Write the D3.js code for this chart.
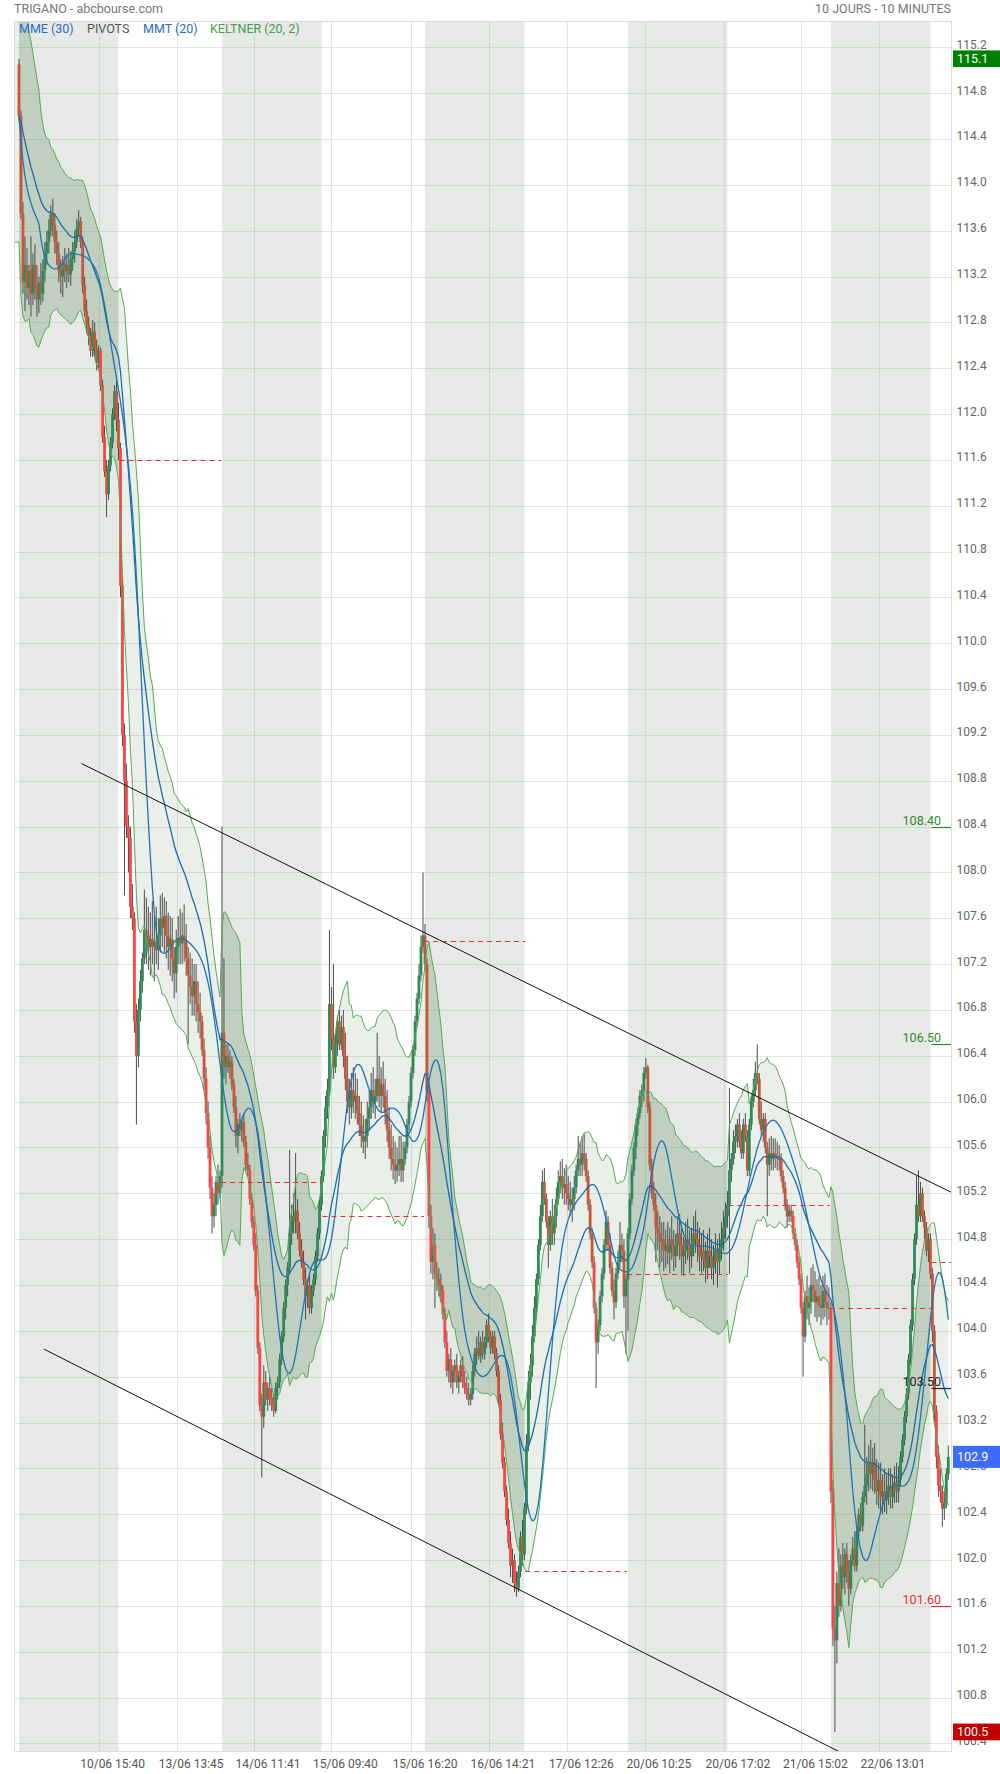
<!DOCTYPE html>
<html><head><meta charset="utf-8">
<script src="https://cdn.jsdelivr.net/npm/d3@7"></script>
<style>
html,body{margin:0;padding:0;background:#fff;}
svg{display:block;font-family:Roboto,"Noto Sans",sans-serif;}
</style></head><body>
<svg id="c" width="1000" height="1774"></svg>
<script>
const title = "TRIGANO - abcbourse.com";
const period = "10 JOURS - 10 MINUTES";
const legendItems = ["MME (30)", "PIVOTS", "MMT (20)", "KELTNER (20, 2)"];
const dayLabels = ["10/06","13/06","14/06","15/06","16/06","17/06","20/06","21/06","22/06","23/06"];
const xTickLabels = ["10/06 15:40","13/06 13:45","14/06 11:41","15/06 09:40","15/06 16:20","16/06 14:21","17/06 12:26","20/06 10:25","20/06 17:02","21/06 15:02","22/06 13:01"];
const yTickLabels = ["115.2","114.8","114.4","114.0","113.6","113.2","112.8","112.4","112.0","111.6","111.2","110.8","110.4","110.0","109.6","109.2","108.8","108.4","108.0","107.6","107.2","106.8","106.4","106.0","105.6","105.2","104.8","104.4","104.0","103.6","103.2","102.8","102.4","102.0","101.6","101.2","100.8","100.4"];

// OHLC per day, 10-minute bars [open, high, low, close]
const day0 = [[115.05,115.1,114.55,114.6],[114.6,114.65,113.7,113.75],[113.75,113.85,113.05,113.15],[113.15,113.55,112.9,113.3],[113.3,113.45,113.0,113.1],[113.1,113.3,112.95,113.25],[113.25,113.55,112.85,113.05],[113.05,113.4,112.95,113.3],[113.3,113.48,113.0,113.1],[113.1,113.3,112.85,113.0],[113.0,113.2,112.88,113.15],[113.15,113.32,112.95,113.05],[113.05,113.35,112.98,113.25],[113.25,113.5,113.15,113.4],[113.4,113.6,113.3,113.5],[113.5,113.7,113.4,113.6],[113.6,113.82,113.55,113.75],[113.75,113.88,113.55,113.65],[113.65,113.75,113.4,113.5],[113.5,113.6,113.3,113.4],[113.4,113.5,113.15,113.25],[113.25,113.35,113.05,113.2],[113.2,113.38,113.02,113.32],[113.32,113.45,113.15,113.25],[113.25,113.4,113.1,113.3],[113.3,113.45,113.15,113.22],[113.22,113.42,113.12,113.35],[113.35,113.5,113.25,113.42],[113.42,113.6,113.32,113.5],[113.5,113.7,113.45,113.62],[113.62,113.78,113.55,113.68],[113.68,113.72,113.45,113.5],[113.5,113.55,113.05,113.12],[113.12,113.2,112.85,112.9],[112.9,113.0,112.7,112.78],[112.78,112.85,112.6,112.68],[112.68,112.75,112.5,112.55],[112.55,112.82,112.5,112.72],[112.72,112.8,112.5,112.58],[112.58,112.65,112.38,112.45],[112.45,112.6,112.4,112.55],[112.55,112.58,112.2,112.25],[112.25,112.3,111.75,111.8],[111.8,111.9,111.45,111.5],[111.5,111.6,111.1,111.3],[111.3,111.6,111.25,111.55],[111.55,111.8,111.5,111.75],[111.75,112.05,111.7,112.0],[112.0,112.25,111.95,112.2],[112.2,112.3,111.85,111.95],[111.95,112.1,111.6,111.7]];
const day1 = [[111.7,111.75,110.4,110.5],[110.5,110.55,109.1,109.2],[109.2,109.3,107.8,108.8],[108.8,108.95,108.3,108.4],[108.4,108.5,108.0,108.3],[108.3,108.4,107.6,107.7],[107.7,107.9,107.5,107.6],[107.6,107.65,106.6,106.7],[106.7,106.85,105.8,106.4],[106.4,106.9,106.3,106.8],[106.8,107.15,106.7,107.05],[107.05,107.3,106.95,107.25],[107.25,107.85,107.2,107.5],[107.5,107.78,107.2,107.45],[107.45,107.7,107.15,107.35],[107.35,107.65,107.1,107.42],[107.42,107.75,107.2,107.35],[107.35,107.62,107.05,107.4],[107.4,107.7,107.2,107.32],[107.32,107.6,107.15,107.45],[107.45,107.8,107.3,107.6],[107.6,107.82,107.35,107.52],[107.52,107.78,107.3,107.62],[107.62,107.75,107.25,107.45],[107.45,107.65,107.15,107.35],[107.35,107.62,107.1,107.42],[107.42,107.6,107.05,107.25],[107.25,107.35,106.9,107.12],[107.12,107.5,106.95,107.35],[107.35,107.62,107.2,107.42],[107.42,107.68,107.2,107.38],[107.38,107.65,107.2,107.45],[107.45,107.72,107.22,107.4],[107.4,107.55,107.1,107.25],[107.25,107.35,106.5,107.1],[107.1,107.3,106.85,107.0],[107.0,107.25,106.75,106.92],[106.92,107.2,106.75,107.05],[107.05,107.2,106.7,106.85],[106.85,107.05,106.6,106.78],[106.78,106.95,106.55,106.7],[106.7,106.75,106.4,106.45],[106.45,106.55,106.1,106.2],[106.2,106.3,105.8,105.9],[105.9,106.0,105.5,105.6],[105.6,105.7,105.15,105.25],[105.25,105.35,104.85,105.0],[105.0,105.2,104.9,105.1],[105.1,105.35,105.0,105.3],[105.3,105.45,105.1,105.2],[105.2,105.4,105.15,105.35]];
const day2 = [[105.35,108.4,105.25,106.6],[106.6,107.25,106.2,106.3],[106.3,106.5,106.15,106.4],[106.4,106.5,106.25,106.3],[106.3,106.45,106.2,106.35],[106.35,106.4,106.1,106.15],[106.15,106.2,105.9,105.95],[105.95,106.05,105.6,105.7],[105.7,105.85,105.55,105.8],[105.8,105.9,105.7,105.75],[105.75,105.85,105.65,105.82],[105.82,105.9,105.6,105.65],[105.65,105.7,105.4,105.45],[105.45,105.55,105.35,105.4],[105.4,105.45,105.1,105.15],[105.15,105.2,104.9,104.95],[104.95,105.0,104.7,104.75],[104.75,104.85,104.3,104.35],[104.35,104.4,103.8,103.85],[103.85,103.9,103.3,103.35],[103.35,103.45,102.72,103.25],[103.25,103.7,103.15,103.55],[103.55,103.65,103.35,103.4],[103.4,103.55,103.3,103.5],[103.5,103.6,103.35,103.42],[103.42,103.5,103.3,103.35],[103.35,103.45,103.25,103.3],[103.3,103.55,103.28,103.5],[103.5,103.6,103.4,103.55],[103.55,103.8,103.5,103.75],[103.75,104.0,103.7,103.95],[103.95,104.25,103.9,104.2],[104.2,104.45,104.1,104.4],[104.4,104.6,104.3,104.55],[104.55,105.58,104.5,104.85],[104.85,105.1,104.75,105.0],[105.0,105.2,104.85,104.95],[104.95,105.55,104.85,105.05],[105.05,105.15,104.8,104.85],[104.85,104.95,104.65,104.7],[104.7,104.8,104.55,104.6],[104.6,104.7,104.4,104.45],[104.45,104.55,104.1,104.3],[104.3,104.45,104.2,104.4],[104.4,104.5,104.15,104.2],[104.2,104.4,104.15,104.35],[104.35,104.5,104.3,104.45],[104.45,104.7,104.4,104.65],[104.65,104.9,104.6,104.85],[104.85,105.15,104.8,105.1],[105.1,105.4,105.05,105.35]];
const day3 = [[105.35,105.75,105.3,105.7],[105.7,106.05,105.6,105.95],[105.95,106.2,105.85,106.1],[106.1,107.5,106.05,106.85],[106.85,107.0,106.45,106.55],[106.55,107.2,106.2,106.3],[106.3,106.6,106.25,106.5],[106.5,106.75,106.4,106.7],[106.7,106.8,106.45,106.5],[106.5,106.75,106.45,106.65],[106.65,106.8,106.3,106.4],[106.4,106.6,106.1,106.2],[106.2,106.4,105.9,106.0],[106.0,106.2,105.8,105.95],[105.95,106.25,105.85,106.1],[106.1,106.3,105.9,106.0],[106.0,106.25,105.85,106.05],[106.05,106.2,105.8,105.9],[105.9,106.05,105.7,105.8],[105.8,106.0,105.6,105.7],[105.7,105.88,105.55,105.65],[105.65,105.85,105.5,105.7],[105.7,106.0,105.6,105.85],[105.85,106.1,105.75,105.95],[105.95,106.25,105.85,106.1],[106.1,106.3,105.9,106.0],[106.0,106.2,105.85,106.05],[106.05,106.6,106.0,106.2],[106.2,106.4,105.95,106.05],[106.05,106.3,105.9,106.15],[106.15,106.35,105.95,106.05],[106.05,106.2,105.8,105.9],[105.9,106.1,105.65,105.75],[105.75,105.95,105.5,105.6],[105.6,105.8,105.4,105.5],[105.5,105.7,105.32,105.45],[105.45,105.65,105.28,105.4],[105.4,105.6,105.3,105.45],[105.45,105.7,105.35,105.5],[105.5,105.7,105.3,105.4],[105.4,105.65,105.3,105.5],[105.5,105.65,105.45,105.6],[105.6,105.85,105.55,105.8],[105.8,106.05,105.75,106.0],[106.0,106.3,105.95,106.25],[106.25,106.5,106.2,106.45],[106.45,106.75,106.4,106.7],[106.7,106.95,106.65,106.9],[106.9,107.2,106.85,107.1],[107.1,107.45,107.05,107.35],[107.35,108.0,107.3,107.45]];
const day4 = [[107.45,107.55,107.15,107.2],[107.2,107.25,106.0,106.1],[106.1,106.15,104.9,105.0],[105.0,105.1,104.5,104.6],[104.6,104.9,104.45,104.75],[104.75,104.85,104.2,104.5],[104.5,104.6,104.35,104.45],[104.45,104.55,104.3,104.4],[104.4,104.5,104.25,104.35],[104.35,104.4,104.1,104.15],[104.15,104.2,103.85,103.9],[103.9,104.0,103.6,103.65],[103.65,103.8,103.55,103.75],[103.75,103.85,103.5,103.55],[103.55,103.7,103.45,103.65],[103.65,103.75,103.55,103.7],[103.7,103.8,103.5,103.55],[103.55,103.65,103.45,103.6],[103.6,103.75,103.55,103.7],[103.7,103.78,103.5,103.55],[103.55,103.65,103.45,103.5],[103.5,103.6,103.4,103.45],[103.45,103.55,103.35,103.4],[103.4,103.5,103.35,103.45],[103.45,103.7,103.4,103.65],[103.65,103.85,103.6,103.8],[103.8,103.95,103.7,103.85],[103.85,104.0,103.75,103.78],[103.78,103.95,103.72,103.9],[103.9,104.0,103.75,103.8],[103.8,103.95,103.75,103.9],[103.9,104.1,103.85,104.05],[104.05,104.15,103.9,103.95],[103.95,104.0,103.8,103.85],[103.85,104.0,103.8,103.95],[103.95,104.0,103.75,103.8],[103.8,103.85,103.6,103.65],[103.65,103.7,103.35,103.4],[103.4,103.45,103.05,103.1],[103.1,103.2,102.8,102.85],[102.85,102.9,102.55,102.6],[102.6,102.65,102.3,102.35],[102.35,102.45,102.1,102.15],[102.15,102.25,101.85,101.95],[101.95,102.1,101.8,102.0],[102.0,102.05,101.72,101.8],[101.8,101.9,101.68,101.75],[101.75,101.95,101.72,101.9],[101.9,102.25,101.85,102.2],[102.2,102.35,101.95,102.05],[102.05,102.5,102.0,102.45]];
const day5 = [[102.45,103.1,102.4,103.0],[103.0,103.65,102.95,103.55],[103.55,103.8,103.4,103.7],[103.7,104.05,103.6,103.95],[103.95,104.3,103.9,104.2],[104.2,104.5,104.1,104.45],[104.45,104.8,104.4,104.75],[104.75,105.1,104.7,105.0],[105.0,105.4,104.95,105.3],[105.3,105.42,105.1,105.15],[105.15,105.2,104.9,104.95],[104.95,105.0,104.55,104.75],[104.75,105.05,104.7,105.0],[105.0,105.15,104.75,104.85],[104.85,105.1,104.75,105.0],[105.0,105.25,104.9,105.15],[105.15,105.4,105.1,105.3],[105.3,105.48,105.2,105.35],[105.35,105.5,105.15,105.25],[105.25,105.42,105.1,105.28],[105.28,105.45,105.1,105.2],[105.2,105.35,105.05,105.15],[105.15,105.3,105.0,105.1],[105.1,105.25,104.95,105.15],[105.15,105.35,105.05,105.25],[105.25,105.45,105.2,105.4],[105.4,105.7,105.35,105.5],[105.5,105.65,105.35,105.45],[105.45,105.7,105.35,105.55],[105.55,105.72,105.4,105.5],[105.5,105.55,105.3,105.35],[105.35,105.4,105.05,105.1],[105.1,105.15,104.8,104.85],[104.85,104.9,104.55,104.6],[104.6,104.65,104.15,104.2],[104.2,104.25,103.5,103.9],[103.9,104.1,103.8,104.05],[104.05,104.35,104.0,104.3],[104.3,104.55,104.25,104.5],[104.5,104.8,104.45,104.75],[104.75,105.05,104.7,104.95],[104.95,105.0,104.7,104.75],[104.75,104.85,104.5,104.55],[104.55,104.6,104.3,104.35],[104.35,104.45,104.1,104.25],[104.25,104.55,104.2,104.5],[104.5,104.7,104.45,104.6],[104.6,104.95,104.55,104.75],[104.75,104.85,104.6,104.7],[104.7,104.8,104.2,104.3],[104.3,104.5,103.8,104.45]];
const day6 = [[104.45,104.9,104.0,104.85],[104.85,105.2,104.8,105.15],[105.15,105.45,105.1,105.4],[105.4,105.65,105.35,105.6],[105.6,105.85,105.5,105.8],[105.8,105.95,105.7,105.9],[105.9,106.1,105.85,106.05],[106.05,106.15,105.95,106.1],[106.1,106.3,106.0,106.25],[106.25,106.38,106.2,106.3],[106.3,106.32,105.9,105.95],[105.95,106.0,105.4,105.45],[105.45,105.5,105.15,105.2],[105.2,105.3,105.05,105.1],[105.1,105.2,104.6,104.9],[104.9,105.05,104.7,104.85],[104.85,105.0,104.55,104.78],[104.78,104.95,104.6,104.8],[104.8,104.95,104.52,104.7],[104.7,104.88,104.55,104.75],[104.75,104.95,104.58,104.68],[104.68,104.9,104.5,104.8],[104.8,105.0,104.62,104.75],[104.75,104.88,104.52,104.65],[104.65,104.85,104.55,104.75],[104.75,105.0,104.65,104.85],[104.85,105.02,104.62,104.75],[104.75,104.9,104.5,104.65],[104.65,104.82,104.48,104.7],[104.7,104.95,104.58,104.8],[104.8,104.98,104.62,104.75],[104.75,104.88,104.5,104.65],[104.65,104.9,104.55,104.75],[104.75,105.0,104.65,104.85],[104.85,105.05,104.68,104.8],[104.8,104.95,104.6,104.75],[104.75,104.9,104.52,104.65],[104.65,104.85,104.5,104.7],[104.7,104.88,104.52,104.62],[104.62,104.78,104.42,104.55],[104.55,104.85,104.45,104.7],[104.7,104.9,104.55,104.65],[104.65,104.8,104.45,104.55],[104.55,104.75,104.4,104.6],[104.6,104.85,104.5,104.7],[104.7,104.8,104.38,104.6],[104.6,104.85,104.5,104.72],[104.72,104.95,104.62,104.8],[104.8,105.05,104.7,104.9],[104.9,105.12,104.8,105.0],[105.0,105.22,104.9,105.1]];
const day7 = [[105.1,106.12,104.5,105.4],[105.4,105.55,105.3,105.5],[105.5,105.75,105.45,105.65],[105.65,105.8,105.55,105.7],[105.7,105.85,105.6,105.8],[105.8,105.9,105.6,105.65],[105.65,105.75,105.5,105.55],[105.55,105.85,105.5,105.8],[105.8,105.9,105.65,105.7],[105.7,105.75,105.35,105.4],[105.4,105.85,105.35,105.8],[105.8,106.05,105.75,106.0],[106.0,106.2,105.95,106.1],[106.1,106.35,106.05,106.25],[106.25,106.5,106.15,106.2],[106.2,106.25,105.8,105.85],[105.85,106.0,105.7,105.75],[105.75,105.9,105.65,105.85],[105.85,105.9,105.55,105.6],[105.6,105.65,105.0,105.45],[105.45,105.68,105.35,105.55],[105.55,105.7,105.4,105.5],[105.5,105.68,105.4,105.55],[105.55,105.68,105.42,105.52],[105.52,105.65,105.4,105.5],[105.5,105.62,105.4,105.5],[105.5,105.55,105.3,105.35],[105.35,105.4,105.2,105.25],[105.25,105.3,105.05,105.1],[105.1,105.15,104.9,105.0],[105.0,105.1,104.95,105.05],[105.05,105.1,104.95,105.0],[105.0,105.05,104.8,104.85],[104.85,104.9,104.7,104.75],[104.75,104.8,104.55,104.6],[104.6,104.65,104.4,104.45],[104.45,104.5,104.15,104.2],[104.2,104.25,103.6,103.95],[103.95,104.35,103.9,104.3],[104.3,104.48,104.1,104.2],[104.2,104.38,104.05,104.25],[104.25,104.55,104.15,104.4],[104.4,104.58,104.25,104.35],[104.35,104.52,104.12,104.25],[104.25,104.45,104.08,104.3],[104.3,104.48,104.12,104.22],[104.22,104.4,104.05,104.2],[104.2,104.48,104.1,104.35],[104.35,104.5,104.12,104.25],[104.25,104.4,104.05,104.2],[104.2,104.38,104.1,104.2]];
const day8 = [[104.2,104.25,102.5,102.6],[102.6,102.7,101.25,101.4],[101.4,101.6,100.5,101.3],[101.3,101.9,101.1,101.8],[101.8,102.1,101.5,101.6],[101.6,102.05,101.55,101.95],[101.95,102.15,101.75,101.85],[101.85,102.1,101.7,102.05],[102.05,102.15,101.8,101.9],[101.9,102.0,101.6,101.75],[101.75,102.05,101.7,102.0],[102.0,102.2,101.95,102.1],[102.1,102.25,101.9,101.95],[101.95,102.3,101.9,102.25],[102.25,102.45,102.2,102.4],[102.4,102.5,102.25,102.3],[102.3,102.6,102.25,102.55],[102.55,103.18,102.5,102.65],[102.65,102.9,102.48,102.75],[102.75,103.0,102.6,102.85],[102.85,103.05,102.62,102.75],[102.75,102.98,102.6,102.85],[102.85,103.02,102.58,102.7],[102.7,102.88,102.48,102.6],[102.6,102.85,102.45,102.7],[102.7,102.85,102.42,102.55],[102.55,102.75,102.4,102.6],[102.6,102.8,102.42,102.52],[102.52,102.75,102.4,102.6],[102.6,102.8,102.48,102.65],[102.65,102.8,102.45,102.55],[102.55,102.75,102.45,102.6],[102.6,102.82,102.5,102.68],[102.68,102.85,102.5,102.6],[102.6,102.82,102.5,102.7],[102.7,102.95,102.65,102.9],[102.9,103.1,102.85,103.05],[103.05,103.3,103.0,103.25],[103.25,103.5,103.2,103.45],[103.45,103.8,103.4,103.75],[103.75,104.1,103.7,104.05],[104.05,104.5,104.0,104.45],[104.45,104.85,104.4,104.8],[104.8,105.35,104.75,105.1],[105.1,105.4,104.95,105.0],[105.0,105.3,104.95,105.2],[105.2,105.25,104.95,105.0],[105.0,105.05,104.8,104.9],[104.9,104.95,104.65,104.7],[104.7,104.85,104.6,104.8],[104.8,104.85,104.45,104.5]];
const day9 = [[104.5,104.55,103.9,104.0],[104.0,104.05,103.2,103.3],[103.3,103.35,102.8,102.9],[102.9,103.0,102.55,102.65],[102.65,102.8,102.5,102.6],[102.6,102.65,102.29,102.45],[102.45,102.6,102.35,102.5],[102.5,102.8,102.45,102.75],[102.75,103.0,102.7,102.9]];

// daily pivot reference (red dashed), one per day
const dailyPivots = [null,111.6,105.3,105.0,107.4,101.9,104.5,105.1,104.2,104.6];
// next levels shown at the right edge
const levelValues = [108.40,106.50,103.50,101.60];
const levelNames = ["108.40","106.50","103.50","101.60"];
// trend lines [bar index, price]
const trendUpper = [[31.4,108.95],[468.3,105.21]];
const trendLower = [[12.6,103.84],[411.9,100.33]];
const periodHigh = 115.1, lastPrice = 102.9, periodLow = 100.5;

const BARS_PER_DAY = 51;
const days = [day0,day1,day2,day3,day4,day5,day6,day7,day8,day9];
const bars = [];
days.forEach((d,di)=>d.forEach((r,k)=>bars.push({i:di*BARS_PER_DAY+k,o:r[0],h:r[1],l:r[2],c:r[3]})));
const N = bars.length;

// indicators
function ema(v,n){const a=2/(n+1);let e=v[0];return v.map(x=>e=e+a*(x-e));}
function sma(v,n){return v.map((x,i)=>d3.mean(v.slice(Math.max(0,i-n+1),i+1)));}
const closes = bars.map(b=>b.c);
const mme = ema(closes,30);
const mmt = sma(sma(closes,10),11);
const tr = bars.map((b,i)=>i===0?b.h-b.l:Math.max(b.h-b.l,Math.abs(b.h-bars[i-1].c),Math.abs(b.l-bars[i-1].c)));
const atr = sma(tr,10);
const kMid = ema(closes,20);
const kUp = kMid.map((m,i)=>m+2*atr[i]);
const kLo = kMid.map((m,i)=>m-2*atr[i]);

// layout
const L=14, R=951, T=21, B=1751;
const svg = d3.select("#c");
const x = d3.scaleLinear().domain([0,N-1]).range([19,19+(N-1)*1.99]);
const y = d3.scaleLinear().domain([100.4,115.2]).range([1743.4,47.3]);

const defs = svg.append("defs");
defs.append("clipPath").attr("id","plot").append("rect").attr("x",L).attr("y",T).attr("width",R-L).attr("height",B-T);
const shadedDays = d3.range(0,10,2).filter(d=>d*BARS_PER_DAY<N);
const cs = defs.append("clipPath").attr("id","shade");
shadedDays.forEach(d=>{const s=d*BARS_PER_DAY,e=Math.min(s+BARS_PER_DAY-1,N-1);
  cs.append("rect").attr("x",x(s)).attr("y",T).attr("width",x(e)-x(s)).attr("height",B-T);});

const g = svg.append("g").attr("clip-path","url(#plot)");
shadedDays.forEach(d=>{const s=d*BARS_PER_DAY,e=Math.min(s+BARS_PER_DAY-1,N-1);
  g.append("rect").attr("x",x(s)).attr("y",T).attr("width",x(e)-x(s)).attr("height",B-T).attr("fill","#e7e9e7");});

function tickBar(lbl){const [dd,tm]=lbl.split(" ");const di=dayLabels.indexOf(dd);const [hh,mm]=tm.split(":").map(Number);return di*BARS_PER_DAY+((hh-9)*60+mm)/10;}
const xTicks = xTickLabels.map(tickBar);
const yTicks = yTickLabels.map(Number);

function grid(sel,color){
  sel.selectAll("line.h").data(yTicks).join("line").attr("class","h").attr("x1",L).attr("x2",R).attr("y1",d=>Math.round(y(d))+0.5).attr("y2",d=>Math.round(y(d))+0.5).attr("stroke",color).attr("stroke-width",1);
  sel.selectAll("line.v").data(xTicks).join("line").attr("class","v").attr("y1",T).attr("y2",B).attr("x1",d=>Math.round(x(d))+0.5).attr("x2",d=>Math.round(x(d))+0.5).attr("stroke",color).attr("stroke-width",1);
}
grid(g.append("g"),"#e4e4e4");
grid(g.append("g").attr("clip-path","url(#shade)"),"#c9dcc9");

// keltner fill
const kData = bars.map((b,i)=>({x:x(i),u:kUp[i],l:kLo[i]}));
kData.unshift({x:L,u:kUp[0],l:kLo[0]});
const area = d3.area().x(d=>d.x).y0(d=>y(d.l)).y1(d=>y(d.u));
g.append("path").datum(kData).attr("d",area).attr("fill","rgba(90,130,90,0.13)");
g.append("g").attr("clip-path","url(#shade)").append("path").datum(kData).attr("d",area).attr("fill","rgba(40,120,40,0.12)");

// candles
const bw = 2.8;
const cg = g.append("g");
cg.selectAll("line.w").data(bars).join("line").attr("class","w")
  .attr("x1",d=>x(d.i)).attr("x2",d=>x(d.i)).attr("y1",d=>y(d.h)).attr("y2",d=>y(d.l))
  .attr("stroke","#4d4d4d").attr("stroke-width",1);
cg.selectAll("rect.b").data(bars).join("rect").attr("class","b")
  .attr("x",d=>x(d.i)-bw/2).attr("width",bw)
  .attr("y",d=>y(Math.max(d.o,d.c))).attr("height",d=>Math.max(1,Math.abs(y(d.o)-y(d.c))))
  .attr("fill",(d,i)=>d.c>=d.o?"#2e8b57":(d.c<kLo[i]?"#ff4242":"#c9553b"));

// keltner lines
const lineU = d3.line().x(d=>d.x).y(d=>y(d.u));
const lineL = d3.line().x(d=>d.x).y(d=>y(d.l));
g.append("path").datum(kData).attr("d",lineU).attr("fill","none").attr("stroke","#55aa55").attr("stroke-width",1);
g.append("path").datum(kData).attr("d",lineL).attr("fill","none").attr("stroke","#55aa55").attr("stroke-width",1);
g.append("line").attr("x1",L+0.5).attr("x2",L+0.5).attr("y1",y(kUp[0])).attr("y2",y(kLo[0])).attr("stroke","#55aa55");

// moving averages
const maLine = d3.line().x((d,i)=>x(i)).y(d=>y(d));
g.append("path").datum(mme).attr("d",maLine).attr("fill","none").attr("stroke","#1b6ca8").attr("stroke-width",1.3);
g.append("path").datum(mmt).attr("d",maLine).attr("fill","none").attr("stroke","#1f74b0").attr("stroke-width",1.3);

// daily pivots
dailyPivots.forEach((v,d)=>{ if(v==null) return;
  const s=d*BARS_PER_DAY, e=Math.min(s+BARS_PER_DAY-1,N-1);
  const x2 = d===9?R:x(e+0.5);
  g.append("line").attr("x1",x(s-0.5)).attr("x2",x2).attr("y1",Math.round(y(v))+0.5).attr("y2",Math.round(y(v))+0.5)
   .attr("stroke","#e53030").attr("stroke-width",1).attr("stroke-dasharray","5,4");
});

// trend lines
const tl = d3.line().x(d=>x(d[0])).y(d=>y(d[1]));
g.append("path").datum(trendUpper).attr("d",tl).attr("stroke","#111").attr("stroke-width",1).attr("fill","none");
g.append("path").datum(trendLower).attr("d",tl).attr("stroke","#111").attr("stroke-width",1).attr("fill","none");

// right-edge levels
const levelColors = ["#2e8b2e","#2e8b2e","#222","#e53030"];
levelValues.forEach((v,k)=>{
  const yy = Math.round(y(v))+0.5;
  svg.append("line").attr("x1",x(N-1-8.5)).attr("x2",R).attr("y1",yy).attr("y2",yy).attr("stroke",levelColors[k]).attr("stroke-width",1.2);
  svg.append("text").attr("x",941).attr("y",yy-2.5).attr("text-anchor","end").attr("font-size",12.5).attr("fill",levelColors[k]).text(levelNames[k]);
});

// frame
svg.append("rect").attr("x",L+0.5).attr("y",T+0.5).attr("width",R-L).attr("height",B-T).attr("fill","none").attr("stroke","#dcdcdc");

// right axis labels
svg.selectAll("text.yt").data(yTickLabels).join("text").attr("class","yt")
  .attr("x",956.5).attr("y",d=>y(+d)+1.5).attr("font-size",12).attr("fill","#666").text(d=>d);

// price boxes
function box(v,h,color){
  const yy=y(v);
  svg.append("rect").attr("x",953).attr("y",yy-h/2).attr("width",47).attr("height",h).attr("fill",color);
  svg.append("text").attr("x",957).attr("y",yy+4.5).attr("font-size",12.5).attr("fill","#fff").text(v.toFixed(1));
}
box(periodHigh,16.7,"#008000");
box(lastPrice,22,"#3d6bff");
box(periodLow,16.7,"#c00000");

// x labels
svg.selectAll("text.xt").data(xTickLabels).join("text").attr("class","xt")
  .attr("x",(d,i)=>x(xTicks[i])+14).attr("y",1767.5).attr("text-anchor","middle").attr("font-size",12).attr("fill","#555").text(d=>d);

// header
svg.append("text").attr("x",14).attr("y",12.5).attr("font-size",12.5).attr("fill","#777").text(title);
svg.append("text").attr("x",R).attr("y",12.5).attr("text-anchor","end").attr("font-size",12.5).attr("fill","#777").text(period);
const legendX = [19,87,143,210];
const legendColors = ["#1e6ec8","#555","#1e6ec8","#43a047"];
legendItems.forEach((t,k)=>svg.append("text").attr("x",legendX[k]).attr("y",32.5).attr("font-size",12.5).attr("fill",legendColors[k]).text(t));
</script>
</body></html>
